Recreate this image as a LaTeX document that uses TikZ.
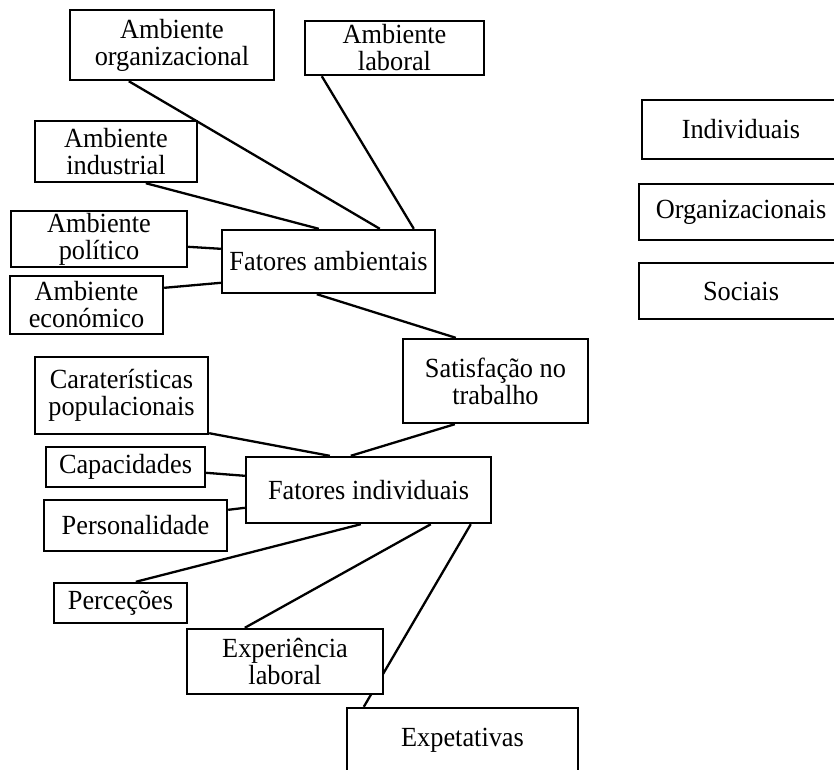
\documentclass[tikz,border=0pt]{standalone}
\usepackage{fontspec}
\setmainfont[FakeStretch=0.95]{Liberation Serif}
\usetikzlibrary{calc}
\begin{document}
\begin{tikzpicture}[x=1pt,y=-1pt,
  box/.style={draw=black,line width=2.4pt,fill=white,inner sep=0pt,align=center,
    font=\fontsize{27.7}{27}\selectfont},
  link/.style={draw=black,line width=2.3pt}]
\clip (0,0) rectangle (834,769);
\fill[white] (0,0) rectangle (834,769);
% nodes
\node[box,minimum width=204,minimum height=70] (org) at (172,45) {Ambiente\\organizacional};
\node[box,minimum width=179,minimum height=54] (lab) at (394.5,48) {Ambiente\\laboral};
\node[box,minimum width=162,minimum height=61] (ind) at (116,151.5) {Ambiente\\industrial};
\node[box,minimum width=176,minimum height=56] (pol) at (99,239) {Ambiente\\político};
\node[box,minimum width=153,minimum height=58] (eco) at (86.5,305) {Ambiente\\económico};
\node[box,minimum width=213,minimum height=63] (fa) at (328.5,261.5) {Fatores ambientais};
\node[box,minimum width=185,minimum height=84] (sat) at (495.5,381) {Satisfação no\\trabalho};
\node[box,minimum width=173,minimum height=77] (car) at (121.5,395.5) {Caraterísticas\\populacionais};
\node[box,minimum width=159,minimum height=40] (cap) at (125.5,467) {Capacidades};
\node[box,minimum width=183,minimum height=51] (per) at (135.5,525.5) {Personalidade};
\node[box,minimum width=245,minimum height=66] (fi) at (368.5,490) {Fatores individuais};
\node[box,minimum width=133,minimum height=40] (perc) at (120.5,603) {Perceções};
\node[box,minimum width=196,minimum height=65] (exp) at (285,661.5) {Experiência\\laboral};
\node[box,minimum width=231,minimum height=64] (expt) at (462.5,740) {Expetativas};
\node[box,minimum width=198,minimum height=59] (indiv) at (741,129.5) {Individuais};
\node[box,minimum width=204,minimum height=56] (orgz) at (741,212) {Organizacionais};
\node[box,minimum width=204,minimum height=56] (soc) at (741,291) {Sociais};
% connectors
\path[link] ($(org.south west)+(60,0)$) -- ($(fa.north west)+(159,0)$);
\path[link] ($(lab.south west)+(18,0)$) -- ($(fa.north west)+(193,0)$);
\path[link] ($(ind.south west)+(112,0)$) -- ($(fa.north west)+(98,0)$);
\path[link] ($(pol.north east)+(0,37)$) -- ($(fa.north west)+(0,20)$);
\path[link] ($(eco.north east)+(0,13)$) -- ($(fa.north west)+(0,54)$);
\path[link] ($(fa.south west)+(96,0)$) -- ($(sat.north west)+(54,0)$);
\path[link] ($(car.south east)+(0,-2)$) -- ($(fi.north west)+(85,0)$);
\path[link] ($(sat.south west)+(53,0)$) -- ($(fi.north west)+(106,0)$);
\path[link] ($(cap.north east)+(0,27)$) -- ($(fi.north west)+(0,20)$);
\path[link] ($(per.north east)+(0,11)$) -- ($(fi.north west)+(0,52)$);
\path[link] ($(fi.south west)+(116,0)$) -- ($(perc.north west)+(83,0)$);
\path[link] ($(fi.south west)+(186,0)$) -- ($(exp.north west)+(59,0)$);
\path[link] ($(fi.south west)+(226,0)$) -- ($(expt.north west)+(18,0)$);
% the box covers the line that passes behind it
\node[box,minimum width=196,minimum height=65] (exp2) at (exp.center) {Experiência\\laboral};
\end{tikzpicture}
\end{document}
